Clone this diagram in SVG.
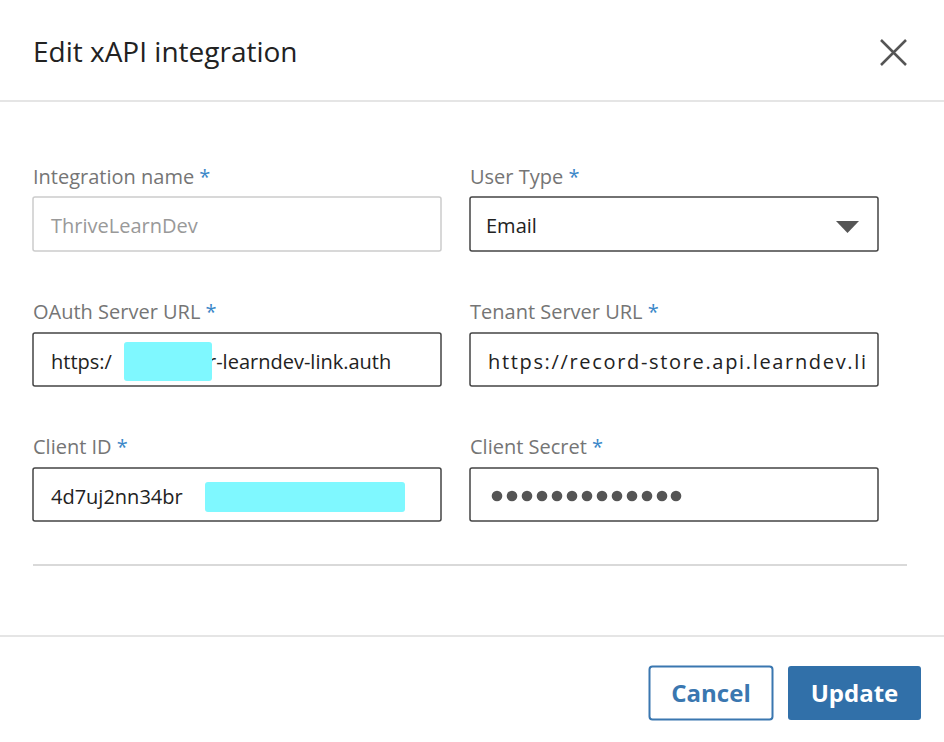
<svg xmlns="http://www.w3.org/2000/svg" width="944" height="742" viewBox="0 0 944 742">
<style>
text{font-family:"Open Sans","Noto Sans","Liberation Sans",sans-serif}
.lbl{font-size:20px;fill:#757575}
.ast{fill:#3a87c8}
.box{fill:#fff;stroke:#444;stroke-width:1.5}
.val{font-size:20px;fill:#222}
.cy{fill:#7ff8ff}
</style>
<rect width="944" height="742" fill="#fff"/>
<g id="header">
<text x="33" y="62" font-size="28" fill="#222">Edit xAPI integration</text>
<path d="M881 40L906 65M906 40L881 65" stroke="#555" stroke-width="2.5"/>
<line x1="0" y1="101" x2="944" y2="101" stroke="#ddd" stroke-width="1.5"/>
</g>
<g id="integration-name">
<text class="lbl" x="33" y="184">Integration name <tspan class="ast">*</tspan></text>
<rect x="33" y="197" width="408" height="54" rx="2" fill="#fff" stroke="#ccc" stroke-width="1.5"/>
<text class="val" x="51" y="233" fill="#999" style="fill:#999">ThriveLearnDev</text>
</g>
<g id="user-type">
<text class="lbl" x="470" y="184">User Type <tspan class="ast">*</tspan></text>
<rect class="box" x="470" y="197" width="408" height="54" rx="2"/>
<text class="val" x="486" y="233">Email</text>
<path d="M836 221L859 221L847.5 233Z" fill="#555"/>
</g>
<g id="oauth">
<text class="lbl" x="33" y="319">OAuth Server URL <tspan class="ast">*</tspan></text>
<rect class="box" x="33" y="333" width="408" height="53" rx="2"/>
<text class="val" x="51" y="369">https:/</text>
<text class="val" x="208" y="369">r-learndev-link.auth</text>
<rect class="cy" x="124" y="342" width="88" height="39" rx="3"/>
</g>
<g id="tenant">
<text class="lbl" x="470" y="319">Tenant Server URL <tspan class="ast">*</tspan></text>
<rect class="box" x="470" y="333" width="408" height="53" rx="2"/>
<text class="val" x="488" y="369" textLength="378">https://record-store.api.learndev.li</text>
</g>
<g id="client-id">
<text class="lbl" x="33" y="454">Client ID <tspan class="ast">*</tspan></text>
<rect class="box" x="33" y="468" width="408" height="53" rx="2"/>
<text class="val" x="51" y="504">4d7uj2nn34br</text>
<rect class="cy" x="205" y="482" width="200" height="30" rx="3"/>
</g>
<g id="client-secret">
<text class="lbl" x="470" y="454">Client Secret <tspan class="ast">*</tspan></text>
<rect class="box" x="470" y="468" width="408" height="53" rx="2"/>
<g fill="#555">
<circle cx="497" cy="496" r="5.3"/><circle cx="512" cy="496" r="5.3"/><circle cx="527" cy="496" r="5.3"/><circle cx="542" cy="496" r="5.3"/><circle cx="557" cy="496" r="5.3"/><circle cx="572" cy="496" r="5.3"/><circle cx="587" cy="496" r="5.3"/><circle cx="602" cy="496" r="5.3"/><circle cx="617" cy="496" r="5.3"/><circle cx="632" cy="496" r="5.3"/><circle cx="647" cy="496" r="5.3"/><circle cx="662" cy="496" r="5.3"/><circle cx="676" cy="496" r="5.3"/>
</g>
</g>
<g id="footer">
<line x1="33" y1="565" x2="907" y2="565" stroke="#ccc" stroke-width="1.5"/>
<line x1="0" y1="636" x2="944" y2="636" stroke="#ddd" stroke-width="1.5"/>
<rect x="649.5" y="666.5" width="123" height="53" rx="3" fill="#fff" stroke="#3a77b0" stroke-width="2"/>
<text x="711" y="702" font-size="24" font-weight="bold" fill="#3a77b0" text-anchor="middle">Cancel</text>
<rect x="788" y="666" width="133" height="54" rx="3" fill="#3170a9"/>
<text x="854.5" y="702" font-size="24" font-weight="bold" fill="#fff" text-anchor="middle">Update</text>
</g>
</svg>
